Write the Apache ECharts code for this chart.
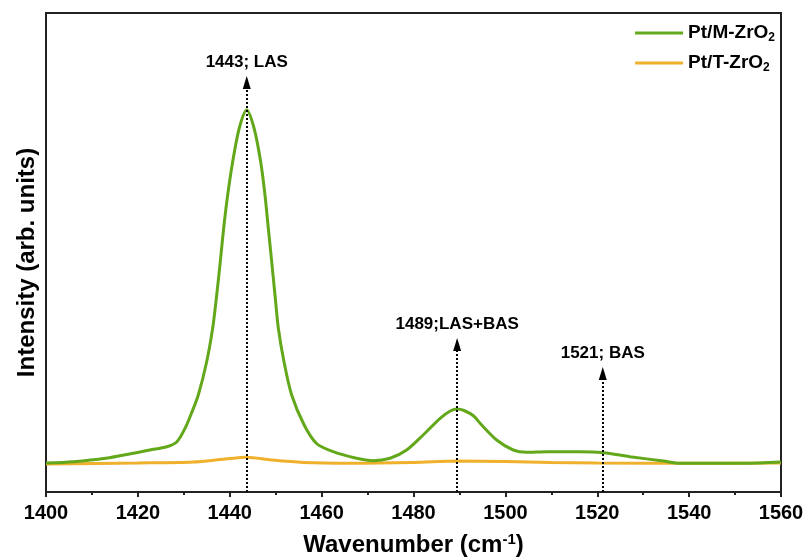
<!DOCTYPE html>
<html>
<head>
<meta charset="utf-8">
<script src="https://cdn.jsdelivr.net/npm/echarts@6/dist/echarts.min.js"></script>
<style>html,body{margin:0;padding:0;background:#fff}#c{width:810px;height:559px}</style>
</head>
<body>
<div id="c"></div>
<script>
// Wavenumber (cm-1) and intensity (arb. units)
const greenX = [1400,1406,1413,1419,1422.6,1426.3,1428.5,1430.3,1431.6,1433.15,1434.98,1436.29,1437.16,1437.94,1438.68,1439.55,1440.64,1442.08,1443.69,1445.28,1446.73,1447.67,1448.39,1449.13,1449.85,1450.57,1451.81,1453.48,1456.2,1458.9,1462.5,1467.6,1471.2,1474.9,1478.5,1482.1,1485.8,1488,1489.5,1491,1493.1,1494.5,1498.1,1501.7,1504.6,1509,1516.2,1521.3,1527.1,1534.4,1538,1545,1552,1560];
const greenY = [29,30.3,33.7,38.7,42,45.3,50.3,64,78,97,130.3,164,197,230.3,264,297,330.3,364,382,364,330.3,297,264,230.3,197,164,130.3,97,67,48.5,40.3,33.7,31.3,33.7,42,57,73.7,81,83,81.5,76,68.7,52,42,39.7,40.3,40.3,39.3,35.3,31,28.7,28.7,28.7,30];
const orangeX = [1400,1420,1432,1439,1443.7,1449,1456,1466,1480,1489.5,1500,1510,1520,1540,1560];
const orangeY = [28,29,30,33,34.7,32,29.5,28.7,29.5,31,30.5,29.5,29,28.7,29];
const seriesNames = ['Pt/M-ZrO2','Pt/T-ZrO2'];
const annX = [1443.7,1489.5,1521.2];
const annTip = [409.5,147.5,118.5];
const annText = ['1443; LAS','1489;LAS+BAS','1521; BAS'];
const xTicks = [1400,1420,1440,1460,1480,1500,1520,1540,1560];

const pair = (xs, ys) => xs.map((x, i) => [x, ys[i]]);
const FONT = '"Liberation Sans", Arial, sans-serif';

const chart = echarts.init(document.getElementById('c'), null, {renderer: 'canvas'});
chart.setOption({
  animation: false,
  backgroundColor: '#fff',
  grid: {left: 46, right: 29, top: 13, bottom: 67, outerBoundsMode: 'none', containLabel: false,
    show: true, borderColor: '#222', borderWidth: 2, backgroundColor: 'transparent'},
  legend: {
    orient: 'vertical', right: 30, top: 17, itemGap: 8,
    itemWidth: 48, itemHeight: 3, icon: 'rect',
    data: seriesNames,
    formatter: n => '{b|' + n.slice(0, -1) + '}{s|' + n.slice(-1) + '}',
    textStyle: {
      fontFamily: FONT, color: '#000',
      rich: {
        b: {fontFamily: FONT, fontSize: 19, fontWeight: 'bold', color: '#000', lineHeight: 22},
        s: {fontFamily: FONT, fontSize: 12, fontWeight: 'bold', color: '#000', lineHeight: 22, padding: [10, 0, 0, 0]}
      }
    }
  },
  xAxis: {
    type: 'value', min: xTicks[0], max: xTicks[xTicks.length - 1], interval: 20,
    name: '{t|Wavenumber (cm}{u|-1}{t|)}', nameLocation: 'middle', nameGap: 40,
    nameTextStyle: {
      rich: {
        t: {fontFamily: FONT, fontSize: 24, fontWeight: 'bold', color: '#000'},
        u: {fontFamily: FONT, fontSize: 15, fontWeight: 'bold', color: '#000', padding: [0, 0, 11, 0]}
      }
    },
    axisLine: {show: true, lineStyle: {color: '#222', width: 2}},
    axisTick: {show: true, length: 5, lineStyle: {color: '#222', width: 2}},
    minorTick: {show: true, splitNumber: 2, length: 3, lineStyle: {color: '#222', width: 2}},
    axisLabel: {fontFamily: FONT, fontSize: 20, fontWeight: 'bold', color: '#000', margin: 11, formatter: v => String(v)},
    splitLine: {show: false}
  },
  yAxis: {
    type: 'value', min: 0, max: 479,
    name: 'Intensity (arb. units)', nameLocation: 'middle', nameGap: 7, nameRotate: 90,
    nameTextStyle: {fontFamily: FONT, fontSize: 24, fontWeight: 'bold', color: '#000', padding: [0, 20, 0, 0]},
    axisLine: {show: true, lineStyle: {color: '#222', width: 2}},
    axisTick: {show: false}, axisLabel: {show: false}, splitLine: {show: false}
  },
  series: [
    {
      name: seriesNames[0], type: 'line', data: pair(greenX, greenY), smooth: 0.3,
      showSymbol: false, symbol: 'none', z: 3,
      lineStyle: {color: '#62A81A', width: 3}, itemStyle: {color: '#62A81A'},
      markLine: {
        silent: true, symbol: ['none', 'triangle'], symbolSize: [8, 13], precision: 1,
        lineStyle: {type: 'dotted', color: '#000', width: 2},
        label: {show: true, position: 'end', distance: 12, fontFamily: FONT, fontSize: 17, fontWeight: 'bold', color: '#000',
          formatter: p => annText[p.dataIndex]},
        data: annX.map((x, i) => [{coord: [x, 0]}, {coord: [x, annTip[i]]}])
      }
    },
    {
      name: seriesNames[1], type: 'line', data: pair(orangeX, orangeY), smooth: 0.3,
      showSymbol: false, symbol: 'none', z: 2,
      lineStyle: {color: '#EFB02C', width: 3}, itemStyle: {color: '#EFB02C'}
    }
  ]
});
</script>
</body>
</html>
